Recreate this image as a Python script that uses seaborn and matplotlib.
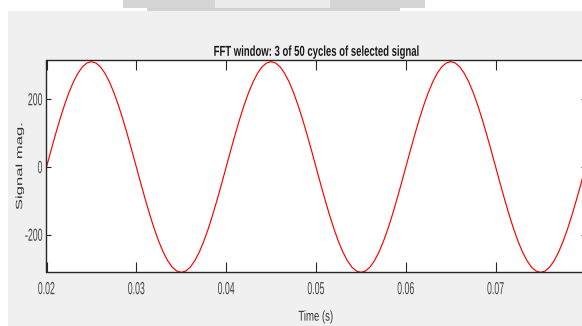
import numpy as np
import pandas as pd
import matplotlib
matplotlib.use("Agg")
import matplotlib.pyplot as plt
import seaborn as sns
from matplotlib.patches import Rectangle
from matplotlib.patheffects import AbstractPathEffect
from matplotlib.transforms import Affine2D

# samples of the selected signal (3 cycles, 0.5 ms step)
t_start = 0.02
t_end = 0.08
signal_mag = [
    0, 48.7, 96.1, 141.2, 182.8, 219.9, 251.6, 277.1, 295.8, 307.2,
    311.0, 307.2, 295.8, 277.1, 251.6, 219.9, 182.8, 141.2, 96.1, 48.7,
    0, -48.7, -96.1, -141.2, -182.8, -219.9, -251.6, -277.1, -295.8, -307.2,
    -311.0, -307.2, -295.8, -277.1, -251.6, -219.9, -182.8, -141.2, -96.1, -48.7,
    0, 48.7, 96.1, 141.2, 182.8, 219.9, 251.6, 277.1, 295.8, 307.2,
    311.0, 307.2, 295.8, 277.1, 251.6, 219.9, 182.8, 141.2, 96.1, 48.7,
    0, -48.7, -96.1, -141.2, -182.8, -219.9, -251.6, -277.1, -295.8, -307.2,
    -311.0, -307.2, -295.8, -277.1, -251.6, -219.9, -182.8, -141.2, -96.1, -48.7,
    0, 48.7, 96.1, 141.2, 182.8, 219.9, 251.6, 277.1, 295.8, 307.2,
    311.0, 307.2, 295.8, 277.1, 251.6, 219.9, 182.8, 141.2, 96.1, 48.7,
    0, -48.7, -96.1, -141.2, -182.8, -219.9, -251.6, -277.1, -295.8, -307.2,
    -311.0, -307.2, -295.8, -277.1, -251.6, -219.9, -182.8, -141.2, -96.1, -48.7,
    0,
]
time_s = np.linspace(t_start, t_end, len(signal_mag))

x_ticks = [0.02, 0.03, 0.04, 0.05, 0.06, 0.07]
x_tick_labels = ["0.02", "0.03", "0.04", "0.05", "0.06", "0.07"]
y_ticks = [-200, 0, 200]
y_tick_labels = ["-200", "0", "200"]
title = "FFT window: 3 of 50 cycles of selected signal"


class Squish(AbstractPathEffect):
    """Squeeze glyphs (the screenshot is horizontally compressed)."""

    def __init__(self, sx=1.0, sy=1.0, anchor="center"):
        super().__init__()
        self.sx, self.sy, self.anchor = sx, sy, anchor

    def draw_path(self, renderer, gc, tpath, affine, rgbFace=None):
        v = tpath.vertices
        if len(v):
            x0, x1 = v[:, 0].min(), v[:, 0].max()
            y0, y1 = v[:, 1].min(), v[:, 1].max()
            px = x1 if self.anchor == "right" else (x0 + x1) / 2
            py = (y0 + y1) / 2
            pre = Affine2D().translate(-px, -py).scale(self.sx, self.sy).translate(px, py)
            affine = pre + affine
        renderer.draw_path(gc, tpath, affine, rgbFace)


df = pd.DataFrame({"time": time_s, "mag": signal_mag})

sns.set_style("ticks")
plt.rcParams["font.family"] = ["Liberation Sans", "DejaVu Sans"]

W, H = 582, 326
fig = plt.figure(figsize=(W / 100, H / 100), dpi=100)
fig.patch.set_facecolor("white")

# window background + blurred toolbar strip at the top
fig.patches.append(Rectangle((8 / W, 0), 1, 1 - 11 / H, transform=fig.transFigure,
                             facecolor="#f0f0f0", edgecolor="none", zorder=-10))
fig.patches.append(Rectangle((123 / W, 1 - 8 / H), 302 / W, 8 / H, transform=fig.transFigure,
                             facecolor="#d5d5d5", edgecolor="none", zorder=-9))
fig.patches.append(Rectangle((215 / W, 1 - 8 / H), 115 / W, 8 / H, transform=fig.transFigure,
                             facecolor="#ececec", edgecolor="none", zorder=-8))
fig.patches.append(Rectangle((147 / W, 1 - 11 / H), 253 / W, 3 / H, transform=fig.transFigure,
                             facecolor="#d2d2d2", edgecolor="none", zorder=-9))

ax = fig.add_axes([46.5 / W, 1 - 272 / H, (585.5 - 46.5) / W, (272 - 60) / H])
ax.set_facecolor("white")

sns.lineplot(data=df, x="time", y="mag", ax=ax, color="#ff0000",
             linewidth=0.85, estimator=None, sort=False)

ax.set_xlim(t_start, t_end)
ax.set_ylim(-310, 316)
ax.set_xticks(x_ticks)
ax.set_xticklabels(x_tick_labels)
ax.set_yticks(y_ticks)
ax.set_yticklabels(y_tick_labels)

for s in ax.spines.values():
    s.set_visible(True)
    s.set_color("#262626")
    s.set_linewidth(1.0)

ax.tick_params(axis="x", direction="in", length=7.5, width=0.8, color="#262626",
               top=True, labelsize=12.6, labelcolor="#444444", pad=7.3)
ax.tick_params(axis="y", direction="in", length=3.6, width=0.8, color="#262626",
               right=True, labelsize=12.6, labelcolor="#444444", pad=2.8)

for lbl in ax.get_xticklabels():
    lbl.set_path_effects([Squish(sx=0.5)])
for lbl in ax.get_yticklabels():
    lbl.set_path_effects([Squish(sx=0.5, anchor="right")])

t = ax.set_title(title, fontsize=10.4, fontweight="bold", color="#1a1a1a", pad=3)
t.set_path_effects([Squish(sx=0.66)])
xl = ax.set_xlabel("Time (s)", fontsize=10.3, color="#333333", labelpad=9)
xl.set_path_effects([Squish(sx=0.67)])
yl = ax.set_ylabel("Signal mag.", fontsize=12, color="#333333")
yl.set_path_effects([Squish(sy=0.55)])
ax.yaxis.set_label_coords(-0.036, 0.5)

fig.savefig("out.png", dpi=100, facecolor=fig.get_facecolor())
